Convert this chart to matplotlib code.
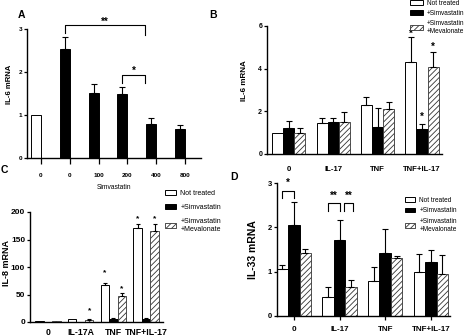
import matplotlib
matplotlib.use("Agg")
import matplotlib.pyplot as plt
from matplotlib.patches import Patch
import numpy as np

plt.rcParams['font.family'] = ['Liberation Sans', 'DejaVu Sans']
plt.rcParams['font.weight'] = 'bold'
plt.rcParams['hatch.linewidth'] = 0.6
plt.rcParams['hatch.color'] = '#333333'

# ---- Panel A: IL-6 mRNA vs simvastatin dose ----
dose_labels = ["0", "0", "100", "200", "400", "800"]
il6_dose = [1.0, 2.53, 1.51, 1.50, 0.80, 0.67]
il6_dose_err = [0.0, 0.28, 0.20, 0.14, 0.12, 0.10]

# ---- Panels B-D: stimulus groups x treatment ----
series_names = ["Not treated", "+Simvastatin", "+Simvastatin\n+Mevalonate"]

groups_b = ["0", "IL-17", "TNF", "TNF+IL-17"]
il6_not = [1.0, 1.43, 2.32, 4.33]
il6_not_err = [0.0, 0.25, 0.36, 1.15]
il6_sim = [1.23, 1.50, 1.28, 1.15]
il6_sim_err = [0.34, 0.18, 0.89, 0.25]
il6_mev = [1.0, 1.50, 2.12, 4.10]
il6_mev_err = [0.21, 0.46, 0.34, 0.70]

groups_c = ["0", "IL-17A", "TNF", "TNF+IL-17"]
il8_not = [1.0, 5.0, 67.0, 171.5]
il8_not_err = [0.0, 0.0, 4.0, 7.5]
il8_sim = [0.5, 0.5, 5.0, 5.0]
il8_sim_err = [0.0, 0.0, 3.0, 3.0]
il8_mev = [1.0, 4.0, 48.0, 165.5]
il8_mev_err = [0.0, 1.0, 4.0, 13.5]

groups_d = ["0", "IL-17", "TNF", "TNF+IL-17"]
il33_not = [1.07, 0.43, 0.80, 0.99]
il33_not_err = [0.08, 0.22, 0.31, 0.41]
il33_sim = [2.06, 1.72, 1.42, 1.22]
il33_sim_err = [0.51, 0.44, 0.55, 0.26]
il33_mev = [1.41, 0.66, 1.30, 0.95]
il33_mev_err = [0.10, 0.15, 0.05, 0.42]

W, H = 474, 336
fig = plt.figure(figsize=(W / 100, H / 100), dpi=100)


def px_axes(l, r, t, b):
    return fig.add_axes([l / W, 1 - b / H, (r - l) / W, (b - t) / H])


def style(ax, tsize):
    for s in ("top", "right"):
        ax.spines[s].set_visible(False)
    for s in ("left", "bottom"):
        ax.spines[s].set_linewidth(1.0)
    ax.tick_params(axis="both", labelsize=tsize, width=0.9, length=2.5, pad=1)
    for lab in ax.get_xticklabels() + ax.get_yticklabels():
        lab.set_fontweight("bold")


bar_kw = [
    dict(facecolor="white", edgecolor="black", linewidth=0.7),
    dict(facecolor="black", edgecolor="black", linewidth=0.7),
    dict(facecolor="white", edgecolor="#333333", linewidth=0.6, hatch="//////"),
]


def grouped(ax, vals, errs, w, capsize):
    x = np.arange(len(vals[0]))
    tops = []
    for k, (v, e) in enumerate(zip(vals, errs)):
        xs = x + (k - 1) * w
        ax.bar(xs, v, width=w, zorder=2, **bar_kw[k])
        v = np.asarray(v)
        e = np.asarray(e)
        m = e > 0
        ax.errorbar(xs[m], v[m], yerr=[np.zeros(m.sum()), e[m]], fmt="none",
                    ecolor="black", elinewidth=0.8, capsize=capsize,
                    capthick=0.8, zorder=3)
        tops.append((xs, v + e))
    return x, tops


def star(ax, x, y, text="*", size=7):
    ax.text(x, y, text, ha="center", va="center", fontsize=size,
            fontweight="bold", clip_on=False)


def bracket(ax, x0, x1, y, drop0, drop1, lw=0.8):
    ax.plot([x0, x0, x1, x1], [y - drop0, y, y, y - drop1], color="black",
            lw=lw, clip_on=False, zorder=4)


# ---------------- A ----------------
axA = px_axes(27, 201, 29, 158)
wA = 0.35
xA = np.arange(len(il6_dose))
colsA = ["white"] + ["black"] * (len(il6_dose) - 1)
axA.bar(xA, il6_dose, width=wA, color=colsA, edgecolor="black",
        linewidth=0.7, zorder=2)
eA = np.asarray(il6_dose_err)
mA = eA > 0
axA.errorbar(xA[mA], np.asarray(il6_dose)[mA],
             yerr=[np.zeros(mA.sum()), eA[mA]], fmt="none", ecolor="black",
             elinewidth=0.8, capsize=2, capthick=0.8, zorder=3)
axA.set_xlim(-0.31, 5.73)
axA.set_ylim(0, 3)
axA.set_yticks([0, 1, 2, 3])
axA.set_xticks(xA + wA / 2)
axA.set_xticklabels(dose_labels)
style(axA, 4.6)
axA.tick_params(axis="x", length=4, pad=7)
axA.set_xlabel("Simvastatin", fontsize=4.8, fontweight="normal", labelpad=4)
axA.set_ylabel("IL-6 mRNA", fontsize=5.6, fontweight="bold", va="center")
axA.yaxis.set_label_coords(-0.10, 0.57)
bracket(axA, 1, 3.8, 3.10, 0.19, 0.23)
star(axA, 2.4, 3.17, "**")
bracket(axA, 3, 3.8, 1.94, 0.2, 0.2)
star(axA, 3.4, 2.03, "*")

# ---------------- B ----------------
axB = px_axes(267, 442, 26, 154)
xB, topsB = grouped(axB, [il6_not, il6_sim, il6_mev],
                    [il6_not_err, il6_sim_err, il6_mev_err], 0.25, 2)
axB.set_xlim(-0.49, 3.45)
axB.set_ylim(0, 6)
axB.set_yticks([0, 2, 4, 6])
axB.set_xticks(xB)
axB.set_xticklabels(groups_b)
style(axB, 5)
axB.tick_params(axis="x", length=0, labelsize=5.6, pad=9)
axB.set_ylabel("IL-6 mRNA", fontsize=5.8, fontweight="bold", va="center")
axB.yaxis.set_label_coords(-0.13, 0.57)
for k, off in ((0, 0.17), (1, 0.33), (2, 0.22)):
    xs, tp = topsB[k]
    star(axB, xs[3], tp[3] + off)

# ---------------- C ----------------
axC = px_axes(30, 163, 212, 322)
xC, topsC = grouped(axC, [il8_not, il8_sim, il8_mev],
                    [il8_not_err, il8_sim_err, il8_mev_err], 0.26, 1.5)
axC.set_xlim(-0.55, 3.52)
axC.set_ylim(0, 200)
axC.set_yticks([0, 50, 100, 150, 200])
axC.set_xticks(xC)
axC.set_xticklabels(groups_c)
style(axC, 6)
axC.tick_params(axis="x", length=0, labelsize=6.3, pad=4)
axC.set_ylabel("IL-8 mRNA", fontsize=6.5, fontweight="bold", va="center")
axC.yaxis.set_label_coords(-0.18, 0.54)
# (series, group, offset above error bar)
starsC = [(2, 1, 15), (0, 2, 19), (2, 2, 9), (0, 3, 8), (2, 3, 8)]
for k, g, off in starsC:
    xs, tp = topsC[k]
    star(axC, xs[g], tp[g] + off, "*", 6)

# ---------------- D ----------------
axD = px_axes(277, 450, 183, 316)
xD, topsD = grouped(axD, [il33_not, il33_sim, il33_mev],
                    [il33_not_err, il33_sim_err, il33_mev_err], 0.25, 2)
axD.set_xlim(-0.37, 3.42)
axD.set_ylim(0, 3)
axD.set_yticks([0, 1, 2, 3])
axD.set_xticks(xD)
axD.set_xticklabels(groups_d)
style(axD, 5.5)
axD.tick_params(axis="x", length=3, labelsize=5.8, pad=4)
axD.set_ylabel("IL-33 mRNA", fontsize=7.5, fontweight="bold", va="center")
axD.yaxis.set_label_coords(-0.14, 0.5)
bracket(axD, -0.25, 0.0, 2.83, 0.17, 0.17)
star(axD, -0.125, 3.0)
bracket(axD, 0.75, 1.0, 2.55, 0.19, 0.19)
star(axD, 0.875, 2.72, "**")
bracket(axD, 1.1, 1.3, 2.55, 0.19, 0.19)
star(axD, 1.2, 2.72, "**")

# ---------------- legends ----------------
handles = [Patch(**bar_kw[0]), Patch(**bar_kw[1]), Patch(**bar_kw[2])]


def add_legend(x, y, size, spacing, hlen):
    fig.legend(handles, series_names, loc="upper left",
               bbox_to_anchor=(x / W, 1 - y / H), frameon=False,
               prop=dict(size=size, weight="normal"), handlelength=hlen,
               handleheight=0.7, labelspacing=spacing, handletextpad=0.6,
               borderaxespad=0, borderpad=0)


add_legend(410, 0, 4.7, 0.45, 2.0)
add_legend(165, 190, 5.0, 1.0, 1.6)
add_legend(405, 197, 4.7, 0.5, 1.6)

# ---------------- panel letters ----------------
for lbl, (px, py) in {"A": (21, 15), "B": (213, 15), "C": (4, 170),
                      "D": (234, 177)}.items():
    fig.text(px / W, 1 - py / H, lbl, ha="center", va="center",
             fontsize=7.5, fontweight="bold")

fig.savefig("out.png", dpi=100)
